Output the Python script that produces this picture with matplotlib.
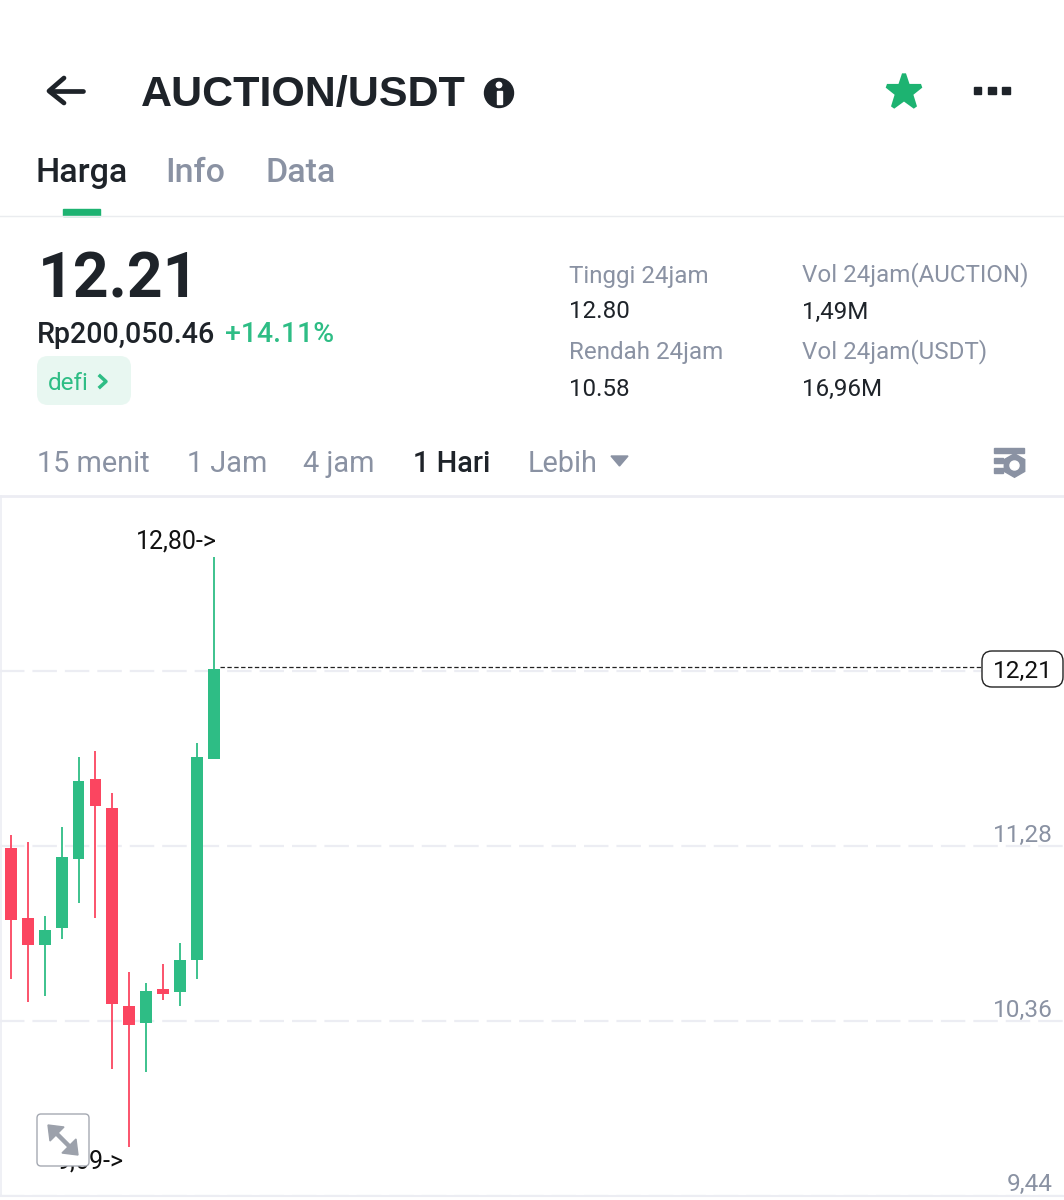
"""AUCTION/USDT daily candles inside the trading app screen."""
import numpy as np
import matplotlib; matplotlib.use("Agg")
import matplotlib.pyplot as plt
from matplotlib.patches import FancyBboxPatch, Polygon, Circle, Rectangle

opens  = [11.27, 10.90, 10.76, 10.85, 11.21, 11.63, 11.48, 10.44, 10.35, 10.53, 10.51, 10.68, 11.74]
closes = [10.89, 10.76, 10.84, 11.22, 11.62, 11.49, 10.45, 10.34, 10.52, 10.50, 10.68, 11.75, 12.21]
highs  = [11.34, 11.30, 10.91, 11.38, 11.75, 11.78, 11.56, 10.62, 10.56, 10.66, 10.77, 11.82, 12.80]
lows   = [10.58, 10.46, 10.49, 10.79, 10.98, 10.90, 10.11, 9.70, 10.09, 10.47, 10.44, 10.58, 11.74]
grid_prices = [12.20, 11.28, 10.36, 9.44]
price_labels = ["11,28", "10,36", "9,44"]
last_price = 12.21
high_label, low_label = "12,80->", "9,69->"
tabs = ["Harga", "Info", "Data"]
intervals = ["15 menit", "1 Jam", "4 jam", "1 Hari", "Lebih"]

DK, GRY, GRN, RED, STAR, GRID = "#1E2329", "#8A92A3", "#2EBD85", "#FB4560", "#1DB371", "#ECEDF3"
plt.rcParams["font.family"] = ["Roboto", "DejaVu Sans"]
fig = plt.figure(figsize=(10.64, 12), dpi=100, facecolor="white")

# chart panel, pixels 497-1195 map onto the price scale
ax = fig.add_axes([0, 1 - 1195 / 1200, 1, (1195 - 497) / 1200])
ax.set_xlim(-0.65, 62.35); ax.set_ylim(9.445, 13.115)
ax.axis("off")
for p in grid_prices:
    ax.axhline(p, color=GRID, lw=1.6, ls=(0, (11, 3.6)), zorder=1)
for i, (o, c, h, l) in enumerate(zip(opens, closes, highs, lows)):
    col = GRN if c >= o else RED
    ax.vlines(i, l, h, color=col, lw=1.3, zorder=2)
    ax.bar(i, abs(c - o), bottom=min(o, c), width=0.7, color=col, zorder=3)
ax.plot([12.35, 57.5], [last_price + 0.01] * 2, color="#222222", lw=0.9, ls=(0, (3.5, 2)), zorder=4)

# screen chrome, in pixel coordinates
ui = fig.add_axes([0, 0, 1, 1], facecolor="none")
ui.set_xlim(0, 1064); ui.set_ylim(1200, 0); ui.axis("off")

def txt(x, y, s, size, color=DK, ha="left", weight="normal", family=None):
    ui.text(x, y + 2, s, fontsize=size, color=color, ha=ha, va="center", fontweight=weight,
            family=family or ["Roboto", "DejaVu Sans"], zorder=6)

# header
ui.plot([83, 50], [91, 91], color=DK, lw=3.4, solid_capstyle="round")
ui.plot([64, 49, 64], [78, 91, 103], color=DK, lw=3.4, solid_capstyle="round", solid_joinstyle="round")
txt(141, 93, "AUCTION/USDT", 31, weight="bold", family=["Liberation Sans", "DejaVu Sans"])
ui.add_patch(Circle((499, 93), 14.5, color=DK))
ui.add_patch(Rectangle((496.5, 91), 5, 13, color="white"))
ui.add_patch(Circle((499, 85), 2.7, color="white"))
ui.plot(904, 92, marker="*", ms=26, color=STAR, mec=STAR, mew=3, ls="none")
for x in [977.3, 991.7, 1006]:
    ui.add_patch(Rectangle((x - 3.8, 86.5), 7.6, 7.6, color=DK))
for (x, s), col in zip(zip([36, 165, 266], tabs), [DK, GRY, GRY]):
    txt(x, 171, s, 24.5, color=col, weight=500)
ui.add_patch(Rectangle((63, 209), 37, 6.5, color=STAR))
ui.plot([0, 1064], [216, 216], color="#EAECEF", lw=1)

# price block
txt(38, 279, "12.21", 45, weight="bold")
txt(37, 333, "Rp200,050.46", 20.6, weight=500)
txt(225, 333, "+14.11%", 20.4, color=GRN, weight=500)
ui.add_patch(FancyBboxPatch((37, 356), 94, 49, boxstyle="round,pad=0,rounding_size=11", fc="#E8F7F1", ec="none"))
txt(48, 382, "defi", 17.5, color=GRN)
ui.plot([100, 106, 100], [376, 381.5, 387], color=GRN, lw=2.5)

# 24h stats
txt(569, 274, "Tinggi 24jam", 17.4, color=GRY)
txt(569, 310, "12.80", 17.4)
txt(569, 351, "Rendah 24jam", 17.4, color=GRY)
txt(569, 387, "10.58", 17.4)
txt(802, 273, "Vol 24jam(AUCTION)", 17.4, color=GRY)
txt(802, 310, "1,49M", 17.4)
txt(802, 350, "Vol 24jam(USDT)", 17.4, color=GRY)
txt(802, 387, "16,96M", 17.4)

# interval tabs
for x, s in zip([37, 187, 303, 413, 528], intervals):
    txt(x, 462, s, 20.8, color=DK if s == "1 Hari" else GRY, weight=500 if s == "1 Hari" else "normal")
ui.add_patch(Polygon([[611, 456], [628, 456], [619.5, 466]], color=GRY))
ui.add_patch(Rectangle((994, 448), 30, 4.5, color=GRY))
ui.add_patch(Rectangle((994, 458), 8.5, 5, color=GRY))
ui.add_patch(Rectangle((994, 468), 8.5, 5, color=GRY))
ui.plot(1014, 465, marker="h", ms=17, color=GRY, ls="none")
ui.plot(1014, 465, marker="o", ms=6.5, color="white", ls="none")

# chart frame and labels
ui.plot([0, 1064], [496, 496], color=GRID, lw=2)
ui.plot([0, 1064], [1195.5, 1195.5], color=GRID, lw=1.5)
ui.plot([1, 1], [496, 1195], color=GRID, lw=1.2)
txt(136, 540, high_label, 18, color="#111111")
txt(57, 1160, low_label, 18, color="#111111")
for y, s in zip([833, 1008, 1182], price_labels):
    txt(1053, y, s, 17.6, color=GRY, ha="right")
ui.add_patch(FancyBboxPatch((982, 651), 81, 36, boxstyle="round,pad=0,rounding_size=10",
                            fc="white", ec="#222222", lw=1, zorder=5))
txt(1022.5, 669, "12,21", 17.6, color="#111111", ha="center")

# expand button sits over the low label
ui.add_patch(FancyBboxPatch((37, 1114), 52, 52, boxstyle="round,pad=0,rounding_size=4",
                            fc="white", ec="#A5A9B2", lw=1, zorder=7))
for pts in [[(48, 1125), (64, 1127), (50, 1141)], [(78, 1155), (62, 1153), (76, 1139)]]:
    ui.add_patch(Polygon(pts, color="#9CA1AB", zorder=8))
ui.plot([54, 72], [1131, 1149], color="#9CA1AB", lw=3.2, zorder=8)

fig.savefig("out.png", dpi=100, facecolor="white")
print("saved out.png")
